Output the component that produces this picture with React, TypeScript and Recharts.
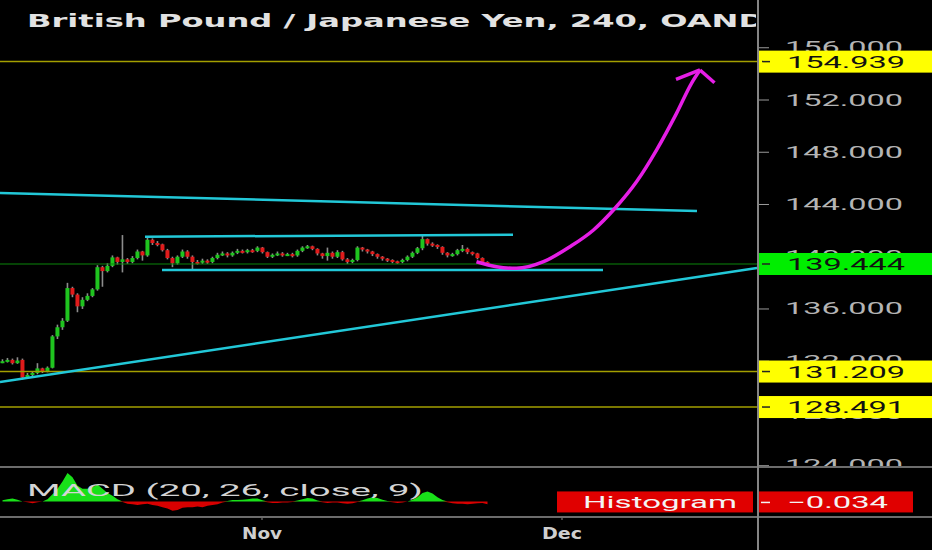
import React from "react";
import {
  ComposedChart,
  Bar,
  Line,
  Area,
  XAxis,
  YAxis,
  ReferenceLine,
} from "recharts";

// -------------------------------
// GBP/JPY 4h candles, oldest first
// -------------------------------
const opens = [
  131.95, 132.0, 132.1, 131.85, 132.1, 130.75, 130.95, 131.1, 131.45, 131.2,
  131.5, 133.9, 134.6, 135.1, 137.6, 137.1, 136.2, 136.7, 137.0, 137.5,
  139.2, 138.9, 139.3, 139.95, 139.6, 139.8, 139.6, 139.9, 140.4, 140.1,
  141.3, 141.05, 140.95, 140.5, 139.9, 139.5, 140.0, 140.4, 140.0, 139.6,
  139.55, 139.7, 139.6, 139.9, 140.15, 140.25, 140.1, 140.3, 140.45, 140.35,
  140.5, 140.45, 140.7, 140.35, 140.0, 140.15, 140.25, 140.15, 140.2, 140.1,
  140.45, 140.7, 140.8, 140.6, 140.25, 140.05, 140.3, 140.0, 140.35, 139.8,
  139.6, 139.75, 140.7, 140.55, 140.4, 140.2, 140.0, 139.85, 139.75, 139.65,
  139.6, 139.75, 140.0, 140.3, 140.65, 141.35, 141.0, 140.9, 140.75, 140.3,
  140.1, 140.2, 140.5, 140.6, 140.35, 140.25, 139.9, 139.6,
];
const highs = [
  132.15, 132.25, 132.2, 132.3, 132.2, 131.1, 131.25, 131.85, 131.5, 131.6,
  134.0, 134.8, 135.3, 138.0, 137.7, 137.2, 136.9, 137.2, 137.6, 139.35,
  139.3, 139.5, 140.1, 140.0, 141.66, 139.9, 140.05, 140.55, 140.45, 141.55,
  141.4, 141.2, 141.0, 140.6, 140.0, 140.1, 140.55, 140.5, 140.1, 139.75,
  139.85, 139.8, 140.0, 140.3, 140.4, 140.35, 140.4, 140.6, 140.55, 140.6,
  140.6, 140.8, 140.75, 140.4, 140.25, 140.4, 140.35, 140.3, 140.3, 140.55,
  140.8, 140.9, 140.85, 140.65, 140.3, 140.7, 140.4, 140.5, 140.45, 139.9,
  139.85, 140.8, 140.75, 140.6, 140.45, 140.25, 140.05, 139.9, 139.8, 139.7,
  139.85, 140.1, 140.4, 140.75, 141.65, 141.4, 141.1, 140.95, 140.8, 140.35,
  140.3, 140.6, 140.9, 140.7, 140.4, 140.3, 139.95, 139.65,
];
const lows = [
  131.85, 131.9, 131.75, 131.8, 130.6, 130.65, 130.85, 131.0, 131.1, 131.15,
  131.45, 133.7, 134.4, 135.0, 136.9, 135.75, 136.0, 136.6, 136.9, 137.4,
  137.7, 138.8, 139.2, 139.4, 138.8, 139.45, 139.5, 139.8, 139.7, 140.0,
  140.9, 140.8, 140.4, 139.8, 139.2, 139.4, 139.9, 139.85, 138.95, 139.4,
  139.45, 139.45, 139.5, 139.8, 140.05, 139.95, 140.0, 140.2, 140.25, 140.25,
  140.3, 140.35, 140.25, 139.9, 139.9, 140.05, 140.0, 140.05, 139.95, 140.0,
  140.35, 140.6, 140.5, 140.1, 139.85, 139.7, 139.85, 139.9, 139.7, 139.45,
  139.5, 139.65, 140.4, 140.25, 140.05, 139.85, 139.7, 139.6, 139.5, 139.45,
  139.5, 139.65, 139.9, 140.2, 140.5, 140.85, 140.75, 140.6, 140.15, 139.95,
  140.0, 140.1, 140.35, 140.2, 140.1, 139.8, 139.45, 139.35,
];
const closes = [
  132.0, 132.1, 131.85, 132.05, 130.75, 130.95, 131.1, 131.45, 131.2, 131.5,
  133.9, 134.6, 135.1, 137.6, 137.1, 136.2, 136.7, 137.0, 137.5, 139.2,
  138.9, 139.3, 139.95, 139.6, 139.8, 139.6, 139.9, 140.4, 140.1, 141.3,
  141.05, 140.95, 140.5, 139.9, 139.5, 140.0, 140.4, 140.0, 139.6, 139.55,
  139.7, 139.6, 139.9, 140.15, 140.25, 140.1, 140.3, 140.45, 140.35, 140.5,
  140.45, 140.7, 140.35, 140.0, 140.15, 140.25, 140.15, 140.2, 140.1, 140.45,
  140.7, 140.8, 140.6, 140.25, 140.05, 140.3, 140.0, 140.35, 139.8, 139.6,
  139.75, 140.7, 140.55, 140.4, 140.2, 140.0, 139.85, 139.75, 139.65, 139.6,
  139.75, 140.0, 140.3, 140.65, 141.35, 141.0, 140.9, 140.75, 140.3, 140.1,
  140.2, 140.5, 140.6, 140.35, 140.25, 139.9, 139.6, 139.44,
];

// MACD histogram, one value per candle
const macdHist = [
  0.04, 0.08, 0.1, 0.06, 0.0, -0.03, -0.06, -0.03, 0.0, 0.08,
  0.25, 0.45, 0.7, 1.0, 0.85, 0.55, 0.45, 0.45, 0.5, 0.6,
  0.45, 0.3, 0.2, 0.08, -0.02, -0.08, -0.1, -0.12, -0.1, -0.08,
  -0.12, -0.15, -0.2, -0.25, -0.33, -0.3, -0.22, -0.2, -0.2, -0.18,
  -0.2, -0.15, -0.12, -0.1, -0.04, 0.02, 0.05, 0.05, 0.06, 0.08,
  0.1, 0.1, 0.04, -0.03, -0.05, -0.05, -0.04, -0.04, -0.02, 0.03,
  0.08, 0.12, 0.1, 0.03, -0.03, -0.05, -0.04, -0.04, -0.06, -0.08,
  -0.06, -0.02, 0.04, 0.1, 0.15, 0.12, 0.06, 0.02, -0.03, -0.05,
  -0.04, 0.0, 0.06, 0.15, 0.3, 0.35, 0.28, 0.15, 0.05, -0.03,
  -0.06, -0.08, -0.08, -0.1, -0.08, -0.06, -0.05, -0.1,
];

// axes
const priceTicks = [124, 128, 132, 136, 140, 144, 148, 152, 156];
const monthTicks = [52.4, 112.4];
const monthLabels = ["Nov", "Dec"];

// price levels on the right scale
const levelPrices = [154.939, 131.209, 128.491];
const lastPrice = 139.444;
const histValue = -0.034;

// drawn trend lines: [t1, p1, t2, p2]
const trendLines = [
  [0, 144.88, 139.4, 143.5],
  [29, 141.53, 102.6, 141.69],
  [32.4, 138.98, 120.6, 138.98],
  [0, 130.41, 151.4, 139.14],
];

// hand-drawn arrow
const arrowT = [95.3, 99.3, 103.3, 108.7, 114, 118.7, 123, 127.3, 131.3, 135.3, 138.3, 140];
const arrowP = [139.62, 139.24, 139.11, 139.62, 140.77, 142.05, 143.71, 145.74, 148.17, 150.98, 153.28, 154.3];
const arrowHeadT = [135.2, 140, 142.9];
const arrowHeadP = [153.58, 154.3, 153.32];

const X_DOMAIN: [number, number] = [0, 151.6];
const PRICE_DOMAIN: [number, number] = [123.9, 159.657];
const CYAN = "#22c8d8";
const LEVEL = "#a39f00";
const MAGENTA = "#e61ee6";

const candleData = closes.map((c, i) => ({
  t: i + 0.5,
  open: opens[i],
  high: highs[i],
  low: lows[i],
  close: c,
  range: [lows[i], highs[i]],
}));

const curveData = arrowT.map((t, i) => ({ t, p: arrowP[i] }));

const macdData = macdHist.map((v, i) => ({
  t: i + 0.5,
  pos: v > 0 ? v : 0,
  neg: v < 0 ? v : 0,
}));

function Candle(props: any) {
  const { x, y, width, height, payload } = props;
  if (x == null || !payload) return null;
  const top = Math.min(y, y + height);
  const h = Math.abs(height);
  const span = payload.high - payload.low || 1;
  const up = payload.close >= payload.open;
  const bodyHi = Math.max(payload.open, payload.close);
  const bodyLo = Math.min(payload.open, payload.close);
  const by1 = top + ((payload.high - bodyHi) / span) * h;
  const by2 = top + ((payload.high - bodyLo) / span) * h;
  const cx = x + width / 2;
  return (
    <g>
      <line x1={cx} x2={cx} y1={top} y2={top + h} stroke="#8c8c8c" strokeWidth={1.6} />
      <rect
        x={cx - 2}
        y={by1}
        width={4}
        height={Math.max(by2 - by1, 2)}
        fill={up ? "#1fc41f" : "#e01b1b"}
      />
    </g>
  );
}

function PriceTick({ x, y, payload }: any) {
  return (
    <text
      x={x}
      y={y}
      dy={5.5}
      textAnchor="start"
      fill="#b4b4b4"
      fontSize={16}
      fontFamily="Roboto, sans-serif"
      textLength={118}
      lengthAdjust="spacingAndGlyphs"
    >
      {Number(payload.value).toFixed(3)}
    </text>
  );
}

function MonthTick({ x, y, payload }: any) {
  const label = monthLabels[monthTicks.indexOf(payload.value)] ?? "";
  return (
    <text
      x={x}
      y={y + 17}
      textAnchor="middle"
      fill="#cfcfcf"
      fontSize={16}
      fontWeight="bold"
      fontFamily="DejaVu Sans, sans-serif"
      textLength={40}
      lengthAdjust="spacingAndGlyphs"
    >
      {label}
    </text>
  );
}

const priceBadge = (value: number, bg: string) => (props: any) => {
  const vb = props.viewBox || {};
  const left = (vb.x ?? 0) + (vb.width ?? 0);
  const cy = vb.y ?? 0;
  return (
    <g>
      <rect x={left} y={cy - 11} width={176} height={22} fill={bg} />
      <line x1={left + 4} x2={left + 12} y1={cy} y2={cy} stroke="#222" strokeWidth={1.5} />
      <text
        x={left + 29}
        y={cy + 6}
        fill="#111"
        fontSize={16}
        fontFamily="Roboto, sans-serif"
        textLength={118}
        lengthAdjust="spacingAndGlyphs"
      >
        {value.toFixed(3)}
      </text>
    </g>
  );
};

const histBadge = (props: any) => {
  const vb = props.viewBox || {};
  const right = (vb.x ?? 0) + (vb.width ?? 0);
  const cy = vb.y ?? 0;
  return (
    <g>
      <rect x={right - 201} y={cy - 11} width={196} height={21} fill="#e00000" />
      <text
        x={right - 175}
        y={cy + 6}
        fill="#f4f4f4"
        fontSize={16}
        fontFamily="Roboto, sans-serif"
        textLength={154}
        lengthAdjust="spacingAndGlyphs"
      >
        Histogram
      </text>
      <rect x={right} y={cy - 11} width={155} height={21} fill="#e00000" />
      <line x1={right + 3} x2={right + 12} y1={cy} y2={cy} stroke="#f4f4f4" strokeWidth={1.5} />
      <text
        x={right + 29}
        y={cy + 6}
        fill="#f4f4f4"
        fontSize={16}
        fontFamily="Roboto, sans-serif"
        textLength={101}
        lengthAdjust="spacingAndGlyphs"
      >
        {`\u2212${Math.abs(histValue).toFixed(3)}`}
      </text>
    </g>
  );
};

export default function App() {
  return (
    <div
      style={{
        position: "fixed",
        left: 0,
        top: 0,
        width: 932,
        height: 550,
        background: "#000",
        overflow: "hidden",
      }}
    >
      {/* price pane */}
      <div style={{ position: "absolute", left: 0, top: 0 }}>
        <ComposedChart
          width={932}
          height={467}
          data={candleData}
          margin={{ top: 0, right: 0, bottom: 0, left: 0 }}
        >
          <XAxis type="number" dataKey="t" domain={X_DOMAIN} hide allowDataOverflow />
          <YAxis
            orientation="right"
            width={174}
            domain={PRICE_DOMAIN}
            ticks={priceTicks}
            interval={0}
            allowDataOverflow
            axisLine={false}
            tickLine={{ stroke: "#9a9a9a" }}
            tickSize={11}
            tickMargin={16}
            tick={<PriceTick />}
          />
          {levelPrices.map((p) => (
            <ReferenceLine key={p} y={p} stroke={LEVEL} strokeWidth={1.5} />
          ))}
          <ReferenceLine y={lastPrice} stroke="#0b850b" strokeWidth={1.2} />
          {trendLines.map((l, i) => (
            <ReferenceLine
              key={i}
              segment={[
                { x: l[0], y: l[1] },
                { x: l[2], y: l[3] },
              ]}
              stroke={CYAN}
              strokeWidth={2.5}
            />
          ))}
          <Bar dataKey="range" barSize={4} isAnimationActive={false} shape={Candle} />
          <Line
            data={curveData}
            dataKey="p"
            type="monotone"
            stroke={MAGENTA}
            strokeWidth={3.5}
            dot={false}
            isAnimationActive={false}
          />
          <ReferenceLine
            segment={[
              { x: arrowHeadT[0], y: arrowHeadP[0] },
              { x: arrowHeadT[1], y: arrowHeadP[1] },
            ]}
            stroke={MAGENTA}
            strokeWidth={3.5}
          />
          <ReferenceLine
            segment={[
              { x: arrowHeadT[1], y: arrowHeadP[1] },
              { x: arrowHeadT[2], y: arrowHeadP[2] },
            ]}
            stroke={MAGENTA}
            strokeWidth={3.5}
          />
        </ComposedChart>
      </div>

      {/* price badges, layered above the axis ticks */}
      <div style={{ position: "absolute", left: 0, top: 0, pointerEvents: "none" }}>
        <ComposedChart
          width={932}
          height={467}
          data={candleData}
          margin={{ top: 0, right: 174, bottom: 0, left: 0 }}
        >
          <XAxis type="number" dataKey="t" domain={X_DOMAIN} hide allowDataOverflow />
          <YAxis hide domain={PRICE_DOMAIN} allowDataOverflow />
          {levelPrices.map((p) => (
            <ReferenceLine key={p} y={p} stroke="none" label={priceBadge(p, "#ffff00")} />
          ))}
          <ReferenceLine y={lastPrice} stroke="none" label={priceBadge(lastPrice, "#00ee00")} />
        </ComposedChart>
      </div>

      {/* MACD pane + time axis */}
      <div style={{ position: "absolute", left: 0, top: 467, background: "#000" }}>
        <ComposedChart
          width={932}
          height={83}
          data={macdData}
          margin={{ top: 0, right: 174, bottom: 0, left: 0 }}
        >
          <XAxis
            type="number"
            dataKey="t"
            domain={X_DOMAIN}
            allowDataOverflow
            ticks={monthTicks}
            interval={0}
            axisLine={false}
            tickLine={{ stroke: "#8a8a8a" }}
            tickSize={4}
            height={34}
            tick={<MonthTick />}
          />
          <YAxis hide domain={[-0.51, 1.21]} allowDataOverflow />
          <Area
            dataKey="pos"
            type="linear"
            baseValue={0}
            stroke="none"
            fill="#19e019"
            fillOpacity={1}
            isAnimationActive={false}
          />
          <Area
            dataKey="neg"
            type="linear"
            baseValue={0}
            stroke="none"
            fill="#d80000"
            fillOpacity={1}
            isAnimationActive={false}
          />
          <ReferenceLine y={histValue} stroke="none" label={histBadge} />
        </ComposedChart>
      </div>

      {/* title */}
      <svg
        width={756}
        height={40}
        style={{ position: "absolute", left: 0, top: 0, overflow: "hidden" }}
      >
        <text
          x={27}
          y={27}
          fill="#e2e2e2"
          fontSize={18}
          fontWeight="bold"
          fontFamily="DejaVu Sans, sans-serif"
          textLength={763}
          lengthAdjust="spacingAndGlyphs"
        >
          British Pound / Japanese Yen, 240, OANDA
        </text>
      </svg>

      {/* MACD legend */}
      <svg
        width={757}
        height={49}
        style={{ position: "absolute", left: 0, top: 467, overflow: "hidden" }}
      >
        <text
          x={27}
          y={29}
          fill="#d4d4d4"
          fontSize={17}
          fontFamily="Roboto, sans-serif"
          textLength={396}
          lengthAdjust="spacingAndGlyphs"
        >
          MACD (20, 26, close, 9)
        </text>
      </svg>

      {/* pane separators */}
      <div style={{ position: "absolute", left: 0, top: 466, width: 932, height: 2, background: "#6c6c6c" }} />
      <div style={{ position: "absolute", left: 0, top: 516, width: 932, height: 2, background: "#6c6c6c" }} />
      <div style={{ position: "absolute", left: 757, top: 0, width: 2, height: 550, background: "#858585" }} />
    </div>
  );
}
